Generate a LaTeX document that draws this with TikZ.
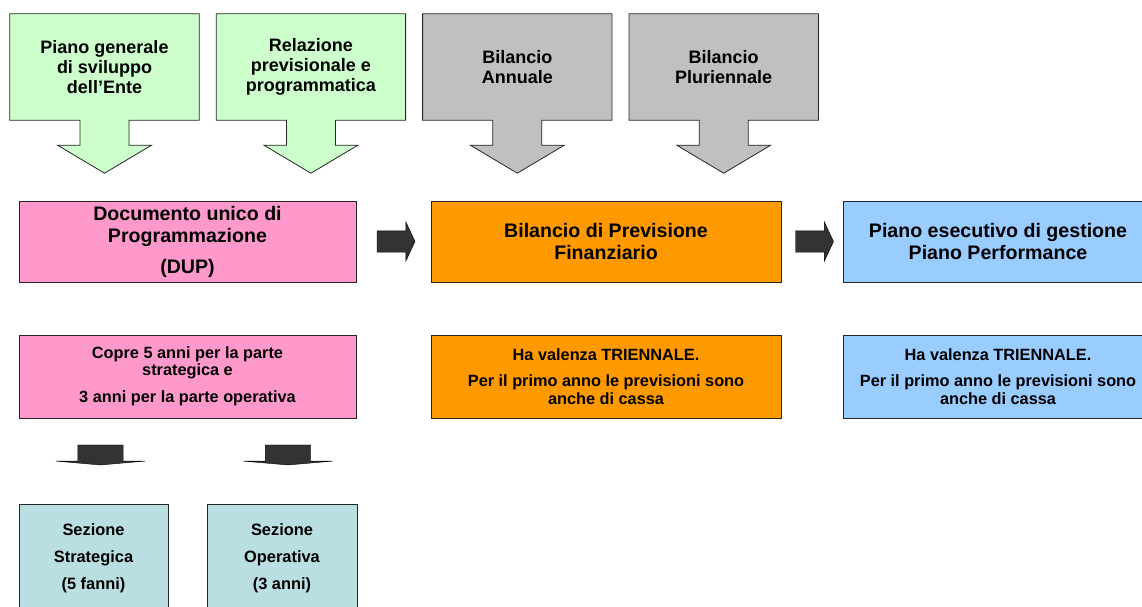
\documentclass[tikz,border=0pt]{standalone}
\usepackage{fontspec}
\setmainfont{Liberation Sans}
\usepackage{tikz}
\usetikzlibrary{positioning, calc}
\usetikzlibrary{shapes.arrows, shadows, backgrounds}
\definecolor{greenfill}{HTML}{CCFFCC}
\definecolor{grayfill}{HTML}{C0C0C0}
\definecolor{pinkfill}{HTML}{FF99CC}
\definecolor{orangefill}{HTML}{FF9900}
\definecolor{bluefill}{HTML}{99CCFF}
\definecolor{tealfill}{HTML}{B9DFE2}
\definecolor{arrowfill}{HTML}{333333}
\tikzstyle{topbox}=[rectangle,inner sep=0pt,minimum width=189pt,minimum height=106pt,align=center,font=\bfseries\fontsize{18}{20}\selectfont]
\tikzstyle{flatbox}=[rectangle,draw=black!85,line width=0.8pt,inner sep=0pt,align=center,drop shadow={shadow xshift=1.2pt,shadow yshift=-1.2pt,fill=black!55}]
\tikzstyle{mainbox}=[flatbox,minimum height=81pt,font=\bfseries\fontsize{19.6}{22}\selectfont]
\tikzstyle{notebox}=[flatbox,minimum height=83pt,font=\bfseries\fontsize{16.3}{17.5}\selectfont]
\tikzstyle{sezbox}=[flatbox,fill=tealfill,minimum height=108pt,font=\bfseries\fontsize{16.4}{27}\selectfont]
\tikzstyle{blockarrow}=[single arrow,draw=black,fill=arrowfill,inner xsep=0pt,single arrow head indent=0pt]
\tikzstyle{calloutline}=[draw=black!85,line width=0.8pt]
% box with a fat arrow under it, drawn behind the text node
\newcommand{\downcallout}[2]{%
  \filldraw[calloutline,fill=#2] (#1.north west) -- (#1.north east) -- (#1.south east)
    -- ($(#1.south)+(24.5,0)$) -- ($(#1.south)+(24.5,25)$) -- ($(#1.south)+(47,25)$)
    -- ($(#1.south)+(0,53)$) -- ($(#1.south)+(-47,25)$) -- ($(#1.south)+(-24.5,25)$)
    -- ($(#1.south)+(-24.5,0)$) -- (#1.south west) -- cycle;}

\begin{document}
\begin{tikzpicture}[x=1pt,y=-1pt]
        \useasboundingbox (0,0) rectangle (1142,607);
        \clip (0,0) rectangle (1142,607);

        % sources
        \node[topbox] (pgs) at (104.5,67) {Piano generale\\di sviluppo\\dell’Ente};
        \node[topbox, right =17pt of pgs] (rpp) {Relazione\\previsionale e\\programmatica};
        \node[topbox, right =17pt of rpp] (ban) {Bilancio\\Annuale};
        \node[topbox, right =17pt of ban] (bpl) {Bilancio\\Pluriennale};

        \begin{scope}[on background layer]
            \downcallout{pgs}{greenfill}
            \downcallout{rpp}{greenfill}
            \downcallout{ban}{grayfill}
            \downcallout{bpl}{grayfill}
        \end{scope}

        % main documents
        \node[mainbox, fill=pinkfill, minimum width=337pt] (dup) at (187.5,241.5)
            {Documento unico di\\Programmazione\\[9pt](DUP)};
        \node[mainbox, fill=orangefill, minimum width=350pt] (bpf) at (606,241.5)
            {Bilancio di Previsione\\Finanziario};
        \node[mainbox, fill=bluefill, minimum width=310pt] (peg) at (998,241.5)
            {Piano esecutivo di gestione\\Piano Performance};

        % notes
        \node[notebox, fill=pinkfill, minimum width=337pt] (cop) at (187.5,376.5)
            {Copre 5 anni per la parte\\strategica e\\[9.5pt]3 anni per la parte operativa};
        \node[notebox, fill=orangefill, minimum width=350pt] (vbpf) at (606,376.5)
            {Ha valenza TRIENNALE.\\[9pt]Per il primo anno le previsioni sono\\anche di cassa};
        \node[notebox, fill=bluefill, minimum width=310pt] (vpeg) at (998,376.5)
            {Ha valenza TRIENNALE.\\[9pt]Per il primo anno le previsioni sono\\anche di cassa};

        % sections
        \node[sezbox, minimum width=149pt] (sezs) at (93.5,558) {Sezione\\Strategica\\(5 fanni)};
        \node[sezbox, minimum width=150pt] (sezo) at (282,558) {Sezione\\Operativa\\(3 anni)};

        % block arrows
        \node[blockarrow, inner ysep=10.5pt, minimum height=38pt, single arrow head extend=9pt,
            single arrow tip angle=130] (a1) at ($(dup.east)!0.5!(bpf.west)$) {};
        \node[blockarrow, inner ysep=10.5pt, minimum height=38pt, single arrow head extend=9pt,
            single arrow tip angle=130] (a2) at ($(bpf.east)!0.5!(peg.west)$) {};
        \node[blockarrow, rotate=-90, inner ysep=22.5pt, minimum height=20pt,
            single arrow head extend=22pt, single arrow tip angle=170] (d1) at (100.5,454) {};
        \node[blockarrow, rotate=-90, inner ysep=22.5pt, minimum height=20pt,
            single arrow head extend=22pt, single arrow tip angle=170] (d2) at (288,454) {};
\end{tikzpicture}
\end{document}
